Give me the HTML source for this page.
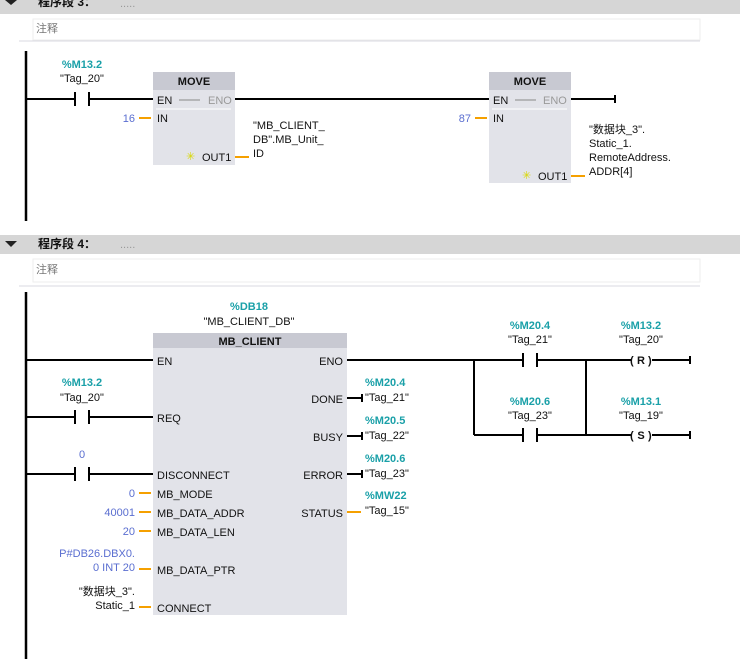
<!DOCTYPE html>
<html><head><meta charset="utf-8"><style>
body{margin:0;background:#fff;width:740px;height:659px;overflow:hidden}
svg text{font-family:"Liberation Sans","Noto Sans CJK SC",sans-serif;font-size:11px;fill:#111}
.t{fill:#1aa0a8;font-weight:bold}
.b{fill:#5a6ed0}
.g{fill:#999}
.h{font-weight:bold;font-size:12px}
</style></head><body>
<svg width="740" height="659" viewBox="0 0 740 659" xmlns="http://www.w3.org/2000/svg">
<rect x="0" y="0" width="740" height="14" fill="#d6d6d6"/>
<polygon points="5,0 17,0 11,5" fill="#222"/>
<text x="38" y="6" class="h">程序段 3：</text>
<text x="120" y="7" class="g" font-size="8">.....</text>
<rect x="33" y="19" width="667" height="21" fill="#fff" stroke="#eee"/>
<text x="36" y="32" style="fill:#777">注释</text>
<line x1="19" y1="41" x2="700" y2="41" stroke="#d8d8e0"/>
<line x1="26" y1="51" x2="26" y2="221" stroke="#000" stroke-width="2.5"/>
<line x1="26" y1="99" x2="75" y2="99" stroke="#000" stroke-width="2"/>
<line x1="75" y1="92" x2="75" y2="106" stroke="#000" stroke-width="2"/>
<line x1="89" y1="92" x2="89" y2="106" stroke="#000" stroke-width="2"/>
<line x1="89" y1="99" x2="153" y2="99" stroke="#000" stroke-width="2"/>
<text x="82" y="68" class="t" text-anchor="middle">%M13.2</text>
<text x="82" y="82" text-anchor="middle">"Tag_20"</text>
<rect x="153" y="72" width="82" height="93" fill="#e2e3e9"/>
<rect x="153" y="72" width="82" height="18" fill="#c8c9d2"/>
<text x="194" y="85" text-anchor="middle" font-weight="bold">MOVE</text>
<text x="157" y="104">EN</text><line x1="179" y1="100" x2="200" y2="100" stroke="#888"/>
<text x="208" y="104" class="g">ENO</text>
<line x1="156" y1="109" x2="231" y2="109" stroke="#fff"/>
<text x="157" y="122">IN</text>
<line x1="139" y1="118" x2="151" y2="118" stroke="#f5a000" stroke-width="2"/>
<text x="135" y="122" class="b" text-anchor="end">16</text>
<text x="186" y="160" style="fill:#d8d800">✳</text>
<text x="202" y="161">OUT1</text>
<line x1="235" y1="157" x2="249" y2="157" stroke="#f5a000" stroke-width="2"/>
<text x="253" y="129">"MB_CLIENT_</text>
<text x="253" y="143">DB".MB_Unit_</text>
<text x="253" y="157">ID</text>
<line x1="235" y1="99" x2="489" y2="99" stroke="#000" stroke-width="2"/>
<rect x="489" y="72" width="82" height="111" fill="#e2e3e9"/>
<rect x="489" y="72" width="82" height="18" fill="#c8c9d2"/>
<text x="530" y="85" text-anchor="middle" font-weight="bold">MOVE</text>
<text x="493" y="104">EN</text><line x1="515" y1="100" x2="536" y2="100" stroke="#888"/>
<text x="543" y="104" class="g">ENO</text>
<line x1="492" y1="109" x2="567" y2="109" stroke="#fff"/>
<text x="493" y="122">IN</text>
<line x1="475" y1="118" x2="487" y2="118" stroke="#f5a000" stroke-width="2"/>
<text x="471" y="122" class="b" text-anchor="end">87</text>
<text x="522" y="179" style="fill:#d8d800">✳</text>
<text x="538" y="180">OUT1</text>
<line x1="571" y1="176" x2="585" y2="176" stroke="#f5a000" stroke-width="2"/>
<line x1="571" y1="99" x2="615" y2="99" stroke="#000" stroke-width="2"/>
<line x1="615" y1="95" x2="615" y2="103" stroke="#000" stroke-width="2"/>
<text x="589" y="133">"数据块_3".</text>
<text x="589" y="147">Static_1.</text>
<text x="589" y="161">RemoteAddress.</text>
<text x="589" y="175">ADDR[4]</text>
<rect x="0" y="235" width="740" height="19" fill="#d6d6d6"/>
<polygon points="5,241 17,241 11,247" fill="#222"/>
<text x="38" y="248" class="h">程序段 4：</text>
<text x="120" y="248" class="g" font-size="8">.....</text>
<rect x="33" y="259" width="667" height="23" fill="#fff" stroke="#eee"/>
<text x="36" y="273" style="fill:#777">注释</text>
<line x1="19" y1="286" x2="700" y2="286" stroke="#d8d8e0"/>
<line x1="26" y1="292" x2="26" y2="659" stroke="#000" stroke-width="2.5"/>
<text x="249" y="310" class="t" text-anchor="middle">%DB18</text>
<text x="249" y="325" text-anchor="middle">"MB_CLIENT_DB"</text>
<rect x="153" y="333" width="194" height="282" fill="#e2e3e9"/>
<rect x="153" y="333" width="194" height="15" fill="#c8c9d2"/>
<text x="250" y="345" text-anchor="middle" font-weight="bold">MB_CLIENT</text>
<line x1="26" y1="360" x2="153" y2="360" stroke="#000" stroke-width="2"/>
<text x="157" y="365">EN</text>
<text x="343" y="365" text-anchor="end">ENO</text>
<line x1="26" y1="417" x2="75" y2="417" stroke="#000" stroke-width="2"/>
<line x1="75" y1="410" x2="75" y2="424" stroke="#000" stroke-width="2"/>
<line x1="89" y1="410" x2="89" y2="424" stroke="#000" stroke-width="2"/>
<line x1="89" y1="417" x2="153" y2="417" stroke="#000" stroke-width="2"/>
<text x="82" y="386" class="t" text-anchor="middle">%M13.2</text>
<text x="82" y="401" text-anchor="middle">"Tag_20"</text>
<text x="157" y="422">REQ</text>
<line x1="26" y1="474" x2="75" y2="474" stroke="#000" stroke-width="2"/>
<line x1="75" y1="467" x2="75" y2="481" stroke="#000" stroke-width="2"/>
<line x1="89" y1="467" x2="89" y2="481" stroke="#000" stroke-width="2"/>
<line x1="89" y1="474" x2="153" y2="474" stroke="#000" stroke-width="2"/>
<text x="82" y="458" class="b" text-anchor="middle">0</text>
<text x="157" y="479">DISCONNECT</text>
<g stroke="#f5a000" stroke-width="2">
<line x1="139" y1="493" x2="151" y2="493"/><line x1="139" y1="512" x2="151" y2="512"/>
<line x1="139" y1="531" x2="151" y2="531"/><line x1="139" y1="569" x2="151" y2="569"/>
<line x1="139" y1="607" x2="151" y2="607"/><line x1="347" y1="512" x2="361" y2="512"/>
</g>
<text x="157" y="498">MB_MODE</text><text x="135" y="497" class="b" text-anchor="end">0</text>
<text x="157" y="517">MB_DATA_ADDR</text><text x="135" y="516" class="b" text-anchor="end">40001</text>
<text x="157" y="536">MB_DATA_LEN</text><text x="135" y="535" class="b" text-anchor="end">20</text>
<text x="157" y="574">MB_DATA_PTR</text>
<text x="135" y="557" class="b" text-anchor="end">P#DB26.DBX0.</text>
<text x="135" y="571" class="b" text-anchor="end">0 INT 20</text>
<text x="157" y="612">CONNECT</text>
<text x="135" y="595" text-anchor="end">"数据块_3".</text>
<text x="135" y="609" text-anchor="end">Static_1</text>
<g stroke="#000" stroke-width="2">
<line x1="347" y1="398" x2="362" y2="398"/><line x1="362" y1="394" x2="362" y2="402"/>
<line x1="347" y1="436" x2="362" y2="436"/><line x1="362" y1="432" x2="362" y2="440"/>
<line x1="347" y1="474" x2="362" y2="474"/><line x1="362" y1="470" x2="362" y2="478"/>
</g>
<text x="343" y="403" text-anchor="end">DONE</text>
<text x="343" y="441" text-anchor="end">BUSY</text>
<text x="343" y="479" text-anchor="end">ERROR</text>
<text x="343" y="517" text-anchor="end">STATUS</text>
<text x="365" y="386" class="t">%M20.4</text><text x="365" y="401">"Tag_21"</text>
<text x="365" y="424" class="t">%M20.5</text><text x="365" y="439">"Tag_22"</text>
<text x="365" y="462" class="t">%M20.6</text><text x="365" y="477">"Tag_23"</text>
<text x="365" y="499" class="t">%MW22</text><text x="365" y="514">"Tag_15"</text>
<g stroke="#000" stroke-width="2" fill="none">
<line x1="347" y1="360" x2="523" y2="360"/>
<line x1="523" y1="353" x2="523" y2="367"/><line x1="537" y1="353" x2="537" y2="367"/>
<line x1="537" y1="360" x2="631" y2="360"/>
<line x1="474" y1="360" x2="474" y2="435"/>
<line x1="586" y1="360" x2="586" y2="435"/>
<line x1="474" y1="435" x2="523" y2="435"/>
<line x1="523" y1="428" x2="523" y2="442"/><line x1="537" y1="428" x2="537" y2="442"/>
<line x1="537" y1="435" x2="631" y2="435"/>
<line x1="652" y1="360" x2="690" y2="360"/><line x1="690" y1="356" x2="690" y2="364"/>
<line x1="652" y1="435" x2="690" y2="435"/><line x1="690" y1="431" x2="690" y2="439"/>
</g>
<text x="630" y="364" font-size="13" font-weight="bold">(</text>
<text x="641" y="364" text-anchor="middle" font-size="10" font-weight="bold">R</text>
<text x="648" y="364" font-size="13" font-weight="bold">)</text>
<text x="630" y="439" font-size="13" font-weight="bold">(</text>
<text x="641" y="439" text-anchor="middle" font-size="10" font-weight="bold">S</text>
<text x="648" y="439" font-size="13" font-weight="bold">)</text>
<text x="530" y="329" class="t" text-anchor="middle">%M20.4</text><text x="530" y="343" text-anchor="middle">"Tag_21"</text>
<text x="530" y="405" class="t" text-anchor="middle">%M20.6</text><text x="530" y="419" text-anchor="middle">"Tag_23"</text>
<text x="641" y="329" class="t" text-anchor="middle">%M13.2</text><text x="641" y="343" text-anchor="middle">"Tag_20"</text>
<text x="641" y="405" class="t" text-anchor="middle">%M13.1</text><text x="641" y="419" text-anchor="middle">"Tag_19"</text>
</svg>
</body></html>
